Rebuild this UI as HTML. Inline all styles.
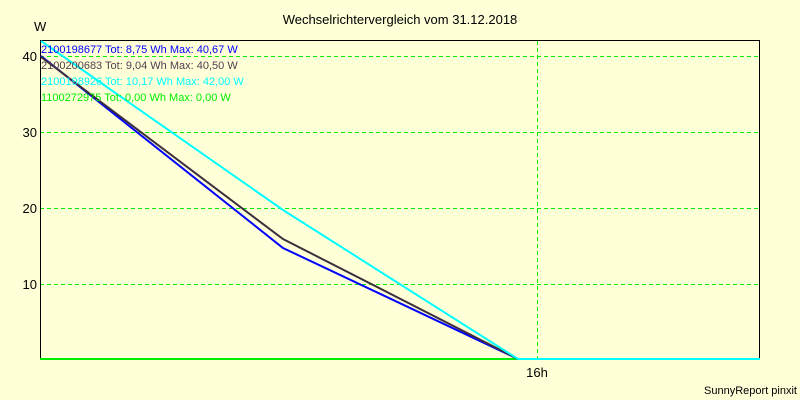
<!DOCTYPE html>
<html><head><style>body{margin:0;background:#ffffd8}svg{display:block}</style></head><body>
<svg width="800" height="400" xmlns="http://www.w3.org/2000/svg" font-family="Liberation Sans, sans-serif">
<defs><pattern id="vd" x="0" y="41" width="1" height="7" patternUnits="userSpaceOnUse"><rect x="0" y="0" width="1" height="4" fill="#00ee00"/></pattern></defs>
<rect width="800" height="400" fill="#ffffd8"/>
<text x="400" y="24" font-size="13" text-anchor="middle" fill="#000">Wechselrichtervergleich vom 31.12.2018</text>
<text x="34" y="31" font-size="13" fill="#000">W</text>
<g stroke="#00ee00" stroke-dasharray="4,3" stroke-width="1" shape-rendering="crispEdges">
<line x1="40" y1="56.5" x2="760" y2="56.5"/><line x1="40" y1="132.5" x2="760" y2="132.5"/>
<line x1="40" y1="208.5" x2="760" y2="208.5"/><line x1="40" y1="284.5" x2="760" y2="284.5"/></g>
<rect x="537" y="41" width="1" height="318" fill="url(#vd)"/>
<rect x="40.5" y="40.5" width="719" height="319" fill="none" stroke="#000" shape-rendering="crispEdges"/>
<g font-size="13" fill="#000" text-anchor="end"><text x="37" y="61">40</text><text x="37" y="137">30</text><text x="37" y="213">20</text><text x="37" y="289">10</text></g>
<text x="537" y="377" font-size="13" text-anchor="middle">16h</text>
<text x="797" y="394" font-size="11" text-anchor="end">SunnyReport pinxit</text>
<line x1="40" y1="359" x2="518" y2="359" stroke="#00ee00" stroke-width="2"/>
<polyline points="41,56 283,248 518,359" fill="none" stroke="#0000ff" stroke-width="2"/>
<polyline points="41,57 283,239 518,359" fill="none" stroke="#3c2f3c" stroke-width="2"/>
<polyline points="41,41 283,210 518,359 760,359" fill="none" stroke="#00ffff" stroke-width="2"/>
<g font-size="11"><text x="41" y="53" fill="#0000ff">2100198677 Tot: 8,75 Wh Max: 40,67 W</text>
<text x="41" y="69" fill="#503c50">2100200683 Tot: 9,04 Wh Max: 40,50 W</text>
<text x="41" y="85" fill="#00ffff">2100198926 Tot: 10,17 Wh Max: 42,00 W</text>
<text x="41" y="101" fill="#00ee00">1100272975 Tot: 0,00 Wh Max: 0,00 W</text></g>
</svg></body></html>
